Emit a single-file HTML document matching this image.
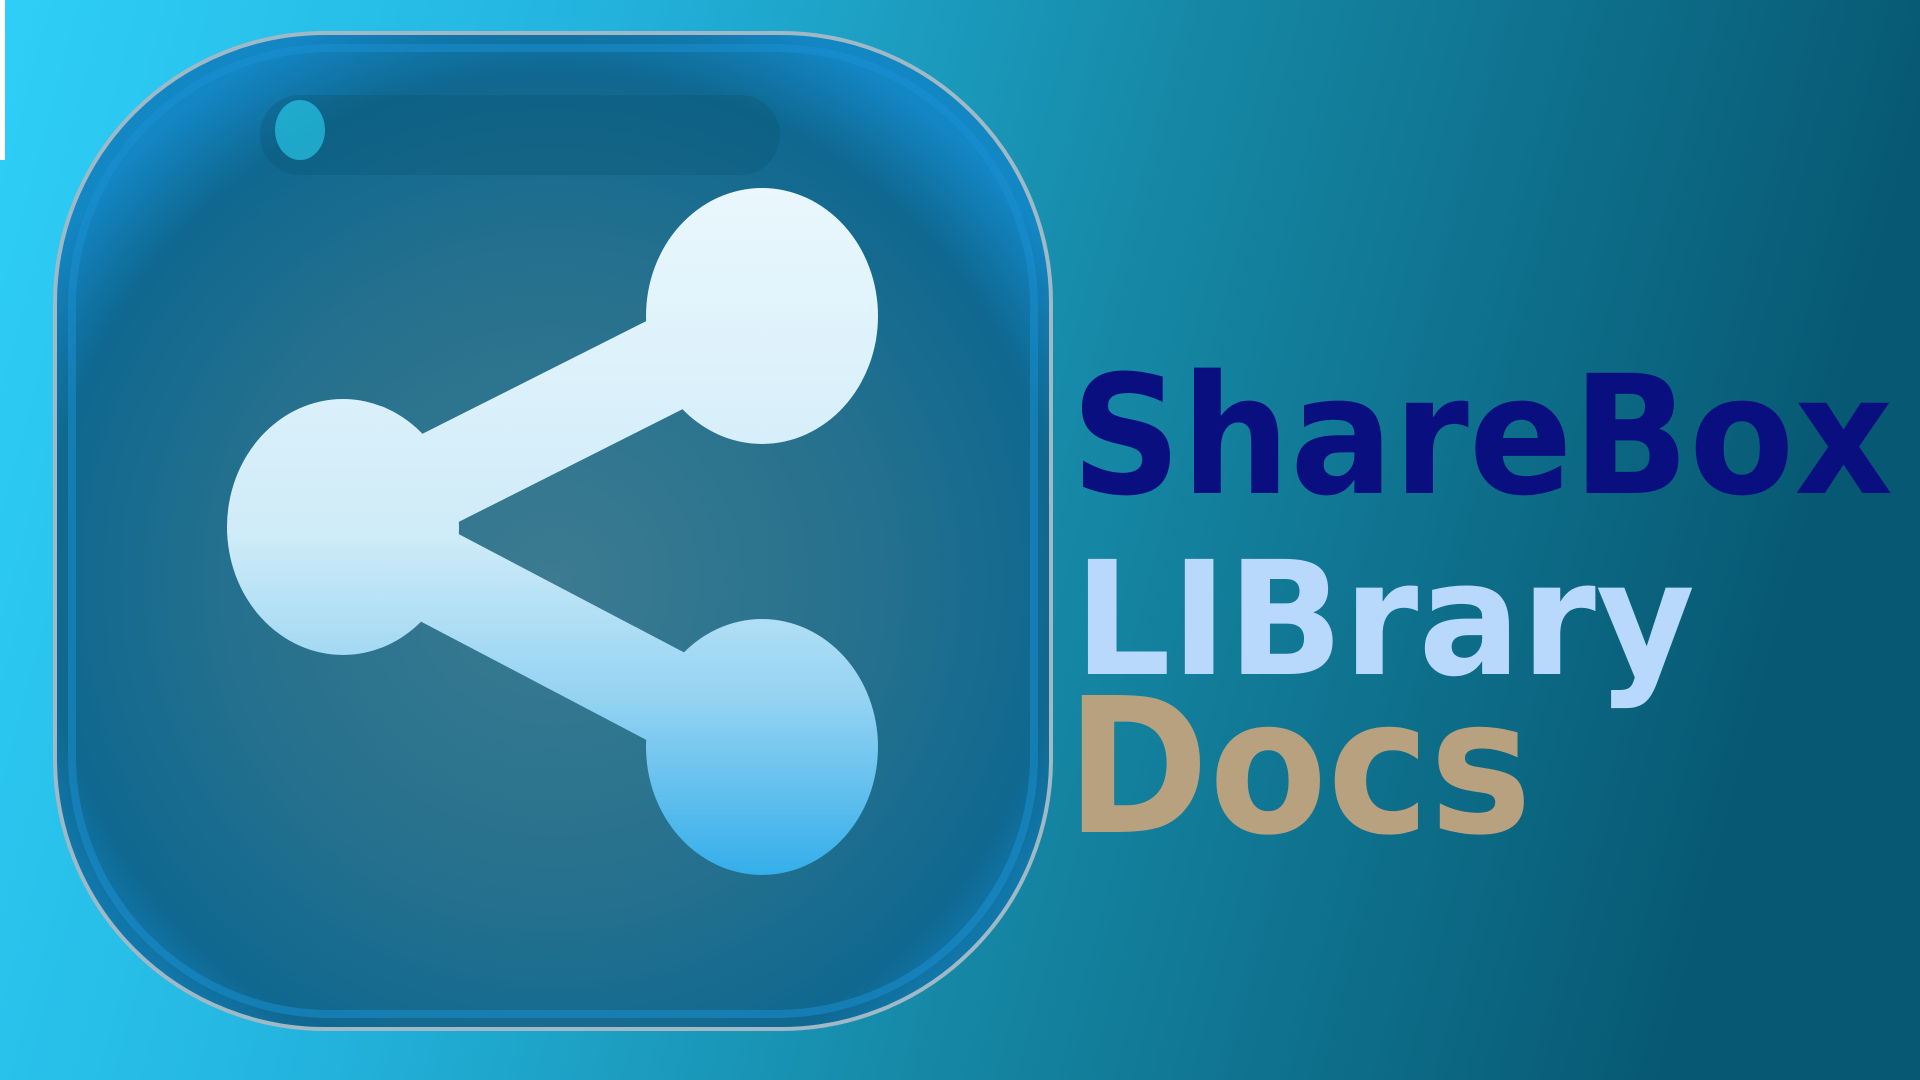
<!DOCTYPE html>
<html><head><meta charset="utf-8"><style>
html,body{margin:0;padding:0;width:1920px;height:1080px;overflow:hidden;}
</style></head><body>
<svg width="1920" height="1080" viewBox="0 0 1920 1080" xmlns="http://www.w3.org/2000/svg">
<defs>
<linearGradient id="bg" x1="0" y1="0" x2="1" y2="0.15">
<stop offset="0" stop-color="#2ecff8"/>
<stop offset="0.3" stop-color="#23b4de"/>
<stop offset="0.6" stop-color="#168aa8"/>
<stop offset="1" stop-color="#075872"/>
</linearGradient>
<radialGradient id="box" cx="0.5" cy="0.55" r="0.6">
<stop offset="0" stop-color="#3c7b90"/>
<stop offset="0.55" stop-color="#24708e"/>
<stop offset="0.85" stop-color="#0f6890"/>
<stop offset="1" stop-color="#1386c4"/>
</radialGradient>
<linearGradient id="sh" gradientUnits="userSpaceOnUse" x1="0" y1="188" x2="0" y2="875">
<stop offset="0" stop-color="#eaf7fd"/>
<stop offset="0.5" stop-color="#d0ecf8"/>
<stop offset="0.75" stop-color="#92d2f2"/>
<stop offset="1" stop-color="#34aeea"/>
</linearGradient>
</defs>
<rect width="1920" height="1080" fill="url(#bg)"/>
<rect x="0" y="0" width="5" height="160" fill="#ffffff"/>
<rect x="55" y="33" width="996" height="996" rx="270" fill="url(#box)" stroke="#9fb9c6" stroke-width="4"/>
<rect x="72" y="48" width="962" height="966" rx="258" fill="none" stroke="#1a92d4" stroke-width="8" opacity="0.5"/>
<rect x="260" y="95" width="520" height="80" rx="40" fill="#0b5672" opacity="0.35"/>
<ellipse cx="300" cy="130" rx="25" ry="30" fill="#2de0ff" opacity="0.55"/>
<g fill="url(#sh)">
<g stroke="url(#sh)" stroke-width="95" stroke-linecap="butt">
<line x1="343" y1="527" x2="762" y2="316"/>
<line x1="343" y1="527" x2="762" y2="747"/>
</g>
<ellipse cx="762" cy="316" rx="116" ry="128"/>
<ellipse cx="343" cy="527" rx="116" ry="128"/>
<ellipse cx="762" cy="747" rx="116" ry="128"/>
</g>
<g font-family="'DejaVu Sans','Liberation Sans',sans-serif" font-weight="bold">
<text x="1071" y="493" font-size="165" textLength="822" lengthAdjust="spacingAndGlyphs" fill="#0a0f80">ShareBox</text>
<text x="1074" y="674" font-size="158" textLength="621" lengthAdjust="spacingAndGlyphs" fill="#b8d8fc">LIBrary</text>
<text x="1066" y="832" font-size="188" textLength="466" lengthAdjust="spacingAndGlyphs" fill="#b7a17f">Docs</text>
</g>
</svg>
</body></html>
